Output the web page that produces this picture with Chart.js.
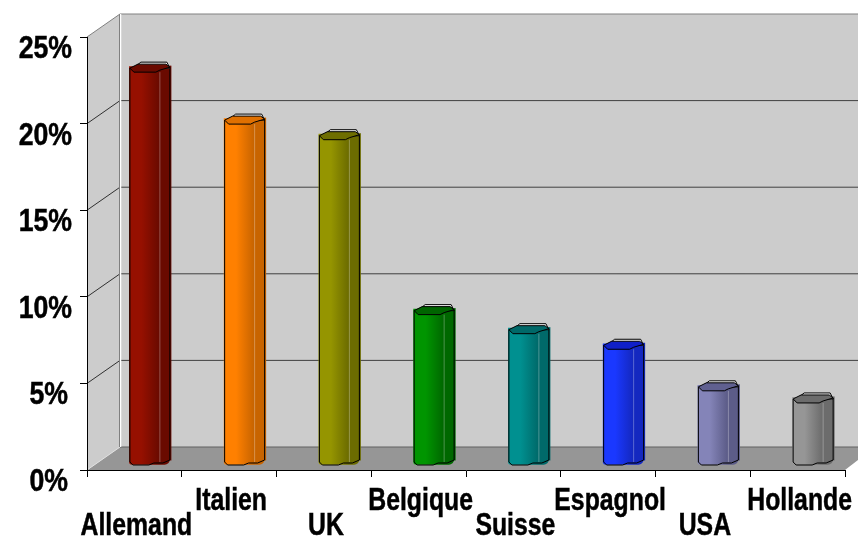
<!DOCTYPE html>
<html>
<head>
<meta charset="utf-8">
<script src="https://cdn.jsdelivr.net/npm/chart.js@4"></script>
<style>
    html, body { margin: 0; padding: 0; background: #fff; overflow: hidden; }
    canvas { display: block; }
</style>
</head>
<body>
<canvas id="marketChart" width="858" height="537"></canvas>
<script>
const categories = ['Allemand', 'Italien', 'UK', 'Belgique', 'Suisse', 'Espagnol', 'USA', 'Hollande'];
const shares = [23, 20, 19.1, 9, 7.9, 7, 4.6, 3.9];
const yTicks = [0, 5, 10, 15, 20, 25];

// front, darker band, top cap
const barColors = ['#961000', '#ff8000', '#959500', '#009500', '#009090', '#1a38ff', '#8484b8', '#969696'];
const darkColors = ['#6a0a00', '#c86400', '#6c6c00', '#006800', '#006a6a', '#1428c0', '#5c5c88', '#6c6c6c'];
const capColors = ['#6a0a00', '#e07000', '#6e6e00', '#006400', '#006868', '#1020c8', '#606090', '#6c6c6c'];
let gradients = [];

// depth of the fake 3D box
const depthX = 33;
const depthY = 23;
const barShiftX = 15;
const barShiftY = 5;
const barWidth = 40;

const fontFamily = '"Liberation Sans", Arial, sans-serif';
const labelSize = 31;
const catSqueeze = 0.8;
const valSqueeze = 0.86;

function poly(ctx, pts) {
    ctx.beginPath();
    pts.forEach((p, i) => i ? ctx.lineTo(p[0], p[1]) : ctx.moveTo(p[0], p[1]));
    ctx.closePath();
}

// no narrow font on the box, so squeeze the bold one
function narrowText(ctx, text, x, y, squeeze, align) {
    ctx.save();
    ctx.font = 'bold ' + labelSize + 'px ' + fontFamily;
    ctx.fillStyle = '#000';
    ctx.strokeStyle = '#000';
    ctx.lineWidth = 0.5;
    ctx.textAlign = align;
    ctx.textBaseline = 'alphabetic';
    ctx.translate(x, y);
    ctx.scale(squeeze, 1);
    ctx.fillText(text, 0, 0);
    ctx.strokeText(text, 0, 0);
    ctx.restore();
}

const boxPlugin = {
    id: 'box3d',
    afterLayout(chart) {
        const ctx = chart.ctx;
        // bars are painted under a translate, so the gradient stays in scale space
        gradients = categories.map((c, i) => {
            const l = chart.scales.x.getPixelForValue(i) - barWidth / 2;
            const g = ctx.createLinearGradient(l, 0, l + barWidth, 0);
            g.addColorStop(0, barColors[i]);
            g.addColorStop(0.3, barColors[i]);
            g.addColorStop(0.74, darkColors[i]);
            g.addColorStop(1, darkColors[i]);
            return g;
        });
    },
    beforeDraw(chart) {
        const ctx = chart.ctx;
        const a = chart.chartArea;
        const y = chart.scales.y;
        const backL = a.left + depthX;
        const cw = chart.width;

        ctx.save();
        // back wall and left wall
        ctx.fillStyle = '#cccccc';
        ctx.fillRect(backL, a.top - depthY, cw - backL, a.bottom - a.top);
        poly(ctx, [[a.left, a.top], [backL, a.top - depthY], [backL, a.bottom - depthY], [a.left, a.bottom]]);
        ctx.fill();
        // floor
        ctx.fillStyle = '#969696';
        poly(ctx, [[a.left, a.bottom], [backL, a.bottom - depthY], [cw, a.bottom - depthY], [cw, a.bottom - 10], [a.right, a.bottom]]);
        ctx.fill();

        // grid lines running round the walls
        ctx.lineWidth = 1;
        yTicks.forEach(t => {
            const py = y.getPixelForValue(t);
            const top = t === 25;
            const floor = t === 0;
            ctx.strokeStyle = top ? '#808080' : (floor ? '#e0e0e0' : '#303030');
            ctx.beginPath();
            ctx.moveTo(a.left, py);
            ctx.lineTo(backL, py - depthY);
            ctx.stroke();
            ctx.strokeStyle = top ? '#808080' : (floor ? '#606060' : '#404040');
            ctx.beginPath();
            ctx.moveTo(backL, py - depthY);
            ctx.lineTo(cw, py - depthY);
            ctx.stroke();
        });
        // corner of the walls
        ctx.strokeStyle = '#ffffff';
        ctx.lineWidth = 1.5;
        ctx.beginPath();
        ctx.moveTo(backL + 0.5, a.top - depthY);
        ctx.lineTo(backL + 0.5, a.bottom - depthY);
        ctx.stroke();
        ctx.strokeStyle = '#808080';
        ctx.lineWidth = 1;
        ctx.beginPath();
        ctx.moveTo(backL - 0.5, a.top - depthY);
        ctx.lineTo(backL - 0.5, a.bottom - depthY);
        ctx.stroke();
        ctx.restore();
    },
    beforeDatasetsDraw(chart) {
        const ctx = chart.ctx;
        // soft shadow of each bar on its right
        ctx.save();
        chart.getDatasetMeta(0).data.forEach((bar, i) => {
            const l = bar.x - barWidth / 2 + barShiftX;
            ctx.fillStyle = darkColors[i];
            ctx.fillRect(l + 10, bar.y - barShiftY - 1, barWidth - 8, bar.base - bar.y - 3);
        });
        ctx.restore();
        ctx.save();
        ctx.translate(barShiftX, -barShiftY);
    },
    afterDatasetsDraw(chart) {
        const ctx = chart.ctx;
        ctx.restore();

        chart.getDatasetMeta(0).data.forEach((bar, i) => {
            const l = bar.x - barWidth / 2 + barShiftX + 0.5;
            const t = bar.y - barShiftY + 0.5;
            const b = bar.base - barShiftY + 0.5;
            const r = l + barWidth;

            ctx.save();
            ctx.lineWidth = 1;

            // pale edge on the side face
            ctx.strokeStyle = 'rgba(255,255,255,0.3)';
            ctx.beginPath();
            ctx.moveTo(l + 30, t + 5);
            ctx.lineTo(l + 30, b - 3);
            ctx.stroke();

            // outline
            ctx.strokeStyle = '#000';
            ctx.beginPath();
            ctx.moveTo(l, t + 1);
            ctx.lineTo(l, b - 3);
            ctx.lineTo(l + 3, b);
            ctx.lineTo(l + 19, b);
            ctx.lineTo(l + 24, b - 2);
            ctx.lineTo(l + 33, b - 2);
            ctx.lineTo(r, b - 5);
            ctx.lineTo(r, t);
            ctx.stroke();

            // back rim of the top
            ctx.fillStyle = '#f4f4f4';
            poly(ctx, [[l + 6, t - 1], [l + 11, t - 5], [l + 37, t - 5], [r - 1, t - 1], [r, t + 1], [l + 2, t + 2]]);
            ctx.fill();
            ctx.stroke();

            // top face
            ctx.fillStyle = capColors[i];
            poly(ctx, [[l, t + 1], [l + 8, t - 3], [r - 4, t - 3], [r, t], [l + 30, t + 3], [l + 26, t + 5], [l + 4, t + 5]]);
            ctx.fill();
            ctx.stroke();
            ctx.restore();
        });
    },
    afterDraw(chart) {
        const ctx = chart.ctx;
        const a = chart.chartArea;
        categories.forEach((c, i) => {
            const base = i % 2 === 0 ? a.bottom + 65 : a.bottom + 40;
            narrowText(ctx, c, chart.scales.x.getPixelForValue(i) + 2, base, catSqueeze, 'center');
        });
        yTicks.forEach(t => {
            const right = t >= 10 ? 72 : 68;
            narrowText(ctx, t + '%', right, chart.scales.y.getPixelForValue(t) + 21, valSqueeze, 'right');
        });
    }
};

function barGradient(c) {
    return gradients[c.dataIndex] || barColors[0];
}

new Chart(document.getElementById('marketChart'), {
    type: 'bar',
    data: {
        labels: categories,
        datasets: [{
            data: shares,
            backgroundColor: barGradient,
            barThickness: barWidth,
            borderWidth: 0,
            borderSkipped: false,
            borderRadius: { topLeft: 0, topRight: 0, bottomLeft: 3, bottomRight: 5 },
            clip: false
        }]
    },
    options: {
        responsive: false,
        animation: false,
        events: [],
        layout: { padding: { top: 37, right: 13, left: 0, bottom: 0 } },
        plugins: { legend: { display: false }, tooltip: { enabled: false } },
        scales: {
            x: {
                afterFit(s) { s.height = 67; s.paddingLeft = 0; s.paddingRight = 0; },
                grid: { color: '#000', drawOnChartArea: false, tickLength: 7, lineWidth: 1 },
                border: { color: '#000' },
                ticks: { display: false }
            },
            y: {
                min: 0,
                max: 25,
                afterFit(s) { s.width = 87; s.paddingTop = 0; s.paddingBottom = 0; },
                afterBuildTicks(s) { s.ticks = yTicks.map(v => ({ value: v })); },
                grid: { color: '#000', drawOnChartArea: false, tickLength: 7, lineWidth: 1 },
                border: { color: '#000' },
                ticks: { display: false }
            }
        }
    },
    plugins: [boxPlugin]
});
</script>
</body>
</html>
